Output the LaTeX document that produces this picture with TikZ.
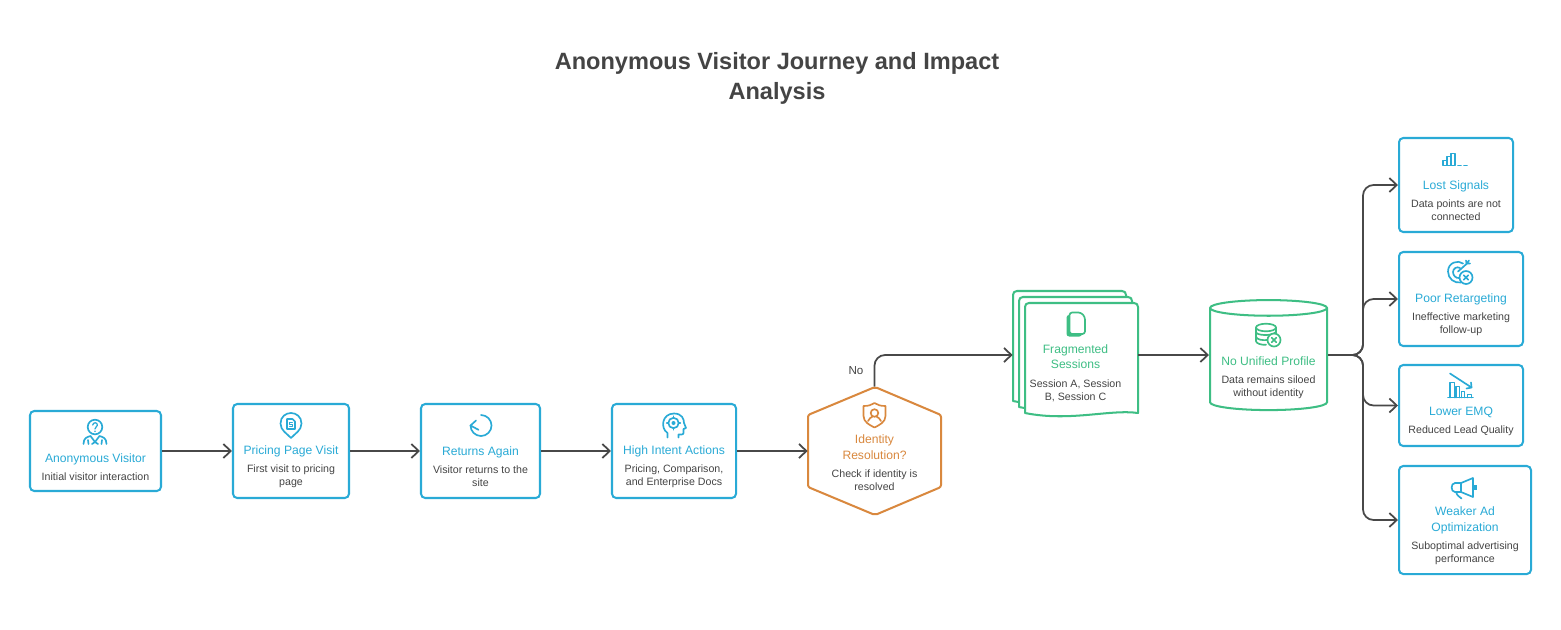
\documentclass[tikz,border=0pt]{standalone}
\usepackage{fontspec}
\setmainfont{Liberation Sans}
\usetikzlibrary{
    shapes.geometric,
    arrows.meta,
    calc
}
\definecolor{bgWhite}{RGB}{255, 255, 255}
\definecolor{textDark}{RGB}{68, 68, 68}
\definecolor{lineDark}{RGB}{72, 72, 72}
\definecolor{cardBlue}{RGB}{41, 170, 214}
\definecolor{cardGreen}{RGB}{62, 190, 132}
\definecolor{cardOrange}{RGB}{217, 136, 62}
\def\px{0.02cm}
\def\slideW{1561}
\def\slideH{629}
\newcommand{\titleFont}{\fontsize{6.9}{8.5}\selectfont}
\newcommand{\subFont}{\fontsize{6.05}{7.4}\selectfont\lineskiplimit=-20pt\relax}
\newcommand{\iconGap}{14.5pt}
\newcommand{\cardbody}[3][cardBlue]{%
    \rule{0pt}{\iconGap}\\[1.2pt]%
    {\titleFont\color{#1}#2}\\[3.1pt]%
    #3%
}
\newcommand{\cardbodyTwo}[4][cardBlue]{%
    \rule{0pt}{\iconGap}\\[1.2pt]%
    {\titleFont\color{#1}#2}\\[1.4pt]%
    {\titleFont\color{#1}#3}\\[3.1pt]%
    #4%
}
\tikzset{
    card/.style 2 args={
        rectangle,
        rounded corners=2.4pt,
        draw=cardBlue,
        line width=1.15pt,
        fill=bgWhite,
        minimum width=#1*\px,
        minimum height=#2*\px,
        inner sep=0pt,
        align=center,
        text=textDark,
        font=\subFont
    },
    bare/.style 2 args={
        rectangle,
        minimum width=#1*\px,
        minimum height=#2*\px,
        inner sep=0pt,
        align=center,
        text=textDark,
        font=\subFont
    },
    database/.style={
        cylinder,
        shape border rotate=90,
        aspect=0.166,
        draw=cardGreen,
        line width=1.15pt,
        fill=bgWhite,
        minimum width=117*\px,
        minimum height=110*\px,
        inner sep=0pt,
        align=center,
        text=textDark,
        font=\subFont
    },
    connector/.style={
        draw=lineDark,
        line width=1pt,
        rounded corners=6pt,
        -{Straight Barb[length=4.2pt,width=8pt,line width=1pt]}
    },
    sheet/.style={
        draw=cardGreen,
        line width=1.15pt,
        fill=bgWhite,
        line join=round
    },
    hexLine/.style={
        draw=cardOrange,
        line width=1.15pt,
        fill=bgWhite,
        rounded corners=1.2pt
    },
    iconBlue/.style={draw=cardBlue, line width=0.95pt, line cap=round, line join=round},
    iconGreen/.style={draw=cardGreen, line width=0.95pt, line cap=round, line join=round},
    iconOrange/.style={draw=cardOrange, line width=0.95pt, line cap=round, line join=round},
    % Icons
    askIcon/.pic={
        \draw[iconBlue] (0,-5) circle (7.3);
        \draw[iconBlue, line width=0.7pt] (-2.3,-7) .. controls (-2,-10) and (2.6,-10) .. (2.4,-6.8) .. controls (2.2,-5) and (0,-5) .. (0,-3);
        \fill[cardBlue] (0,-0.8) circle (0.9);
        \draw[iconBlue] (-11.5,12) .. controls (-11.5,6) and (-8,5) .. (-4.5,4) -- (0,10) -- (4.5,4) .. controls (8,5) and (11.5,6) .. (11.5,12);
        \draw[iconBlue] (-6.5,12) -- (-7,8) (6.5,12) -- (7,8) (-3,12) -- (0,10) -- (3,12);
    },
    pinIcon/.pic={
        \draw[iconBlue] (0,12.5) .. controls (-4,8) and (-10.5,5) .. (-10.5,-2) .. controls (-10.5,-9) and (-5,-12.5) .. (0,-12.5) .. controls (5,-12.5) and (10.5,-9) .. (10.5,-2) .. controls (10.5,5) and (4,8) .. (0,12.5) -- cycle;
        \draw[iconBlue] (-4,-6.5) -- (1.5,-6.5) -- (4,-4) -- (4,3.5) -- (-4,3.5) -- cycle;
        \draw[iconBlue, line width=0.6pt] (1.4,-3) -- (-1.4,-3) -- (-1.4,-1.2) -- (1.4,-1.2) -- (1.4,0.8) -- (-1.4,0.8);
    },
    loopIcon/.pic={
        \draw[iconBlue] (0,-10.5) arc[start angle=-90, end angle=180, radius=10.5];
        \draw[iconBlue] (-5,-5) -- (-10.5,0) -- (-2.5,4.3);
    },
    headIcon/.pic={
        \draw[iconBlue] (-6.5,12.5) -- (-6.5,8) .. controls (-14,3) and (-12,-11.5) .. (0,-11.5) .. controls (8,-11.5) and (10,-6) .. (10,-2) -- (12,3) -- (9.5,4) -- (9.5,8) .. controls (9.5,10) and (6,9.5) .. (4.5,9.5) -- (4.5,12.5);
        \draw[iconBlue] (-0.5,-2) circle (5.2);
        \fill[cardBlue] (-0.5,-2) circle (2);
        \draw[iconBlue] (-0.5,-8.8) -- (-0.5,-7.2) (-0.5,3.2) -- (-0.5,4.8) (-7.3,-2) -- (-5.7,-2) (4.7,-2) -- (6.3,-2);
    },
    shieldIcon/.pic={
        \draw[iconOrange] (-11,-9) .. controls (-6,-9) and (-3,-10) .. (0,-12) .. controls (3,-10) and (6,-9) .. (11,-9) -- (11,1) .. controls (11,7) and (5,10) .. (0,12.5) .. controls (-5,10) and (-11,7) .. (-11,1) -- cycle;
        \draw[iconOrange] (0,-2) circle (3.8);
        \draw[iconOrange] (-6.5,6) .. controls (-6,3) and (-3,3) .. (-2,1.5) (6.5,6) .. controls (6,3) and (3,3) .. (2,1.5);
    },
    pagesIcon/.pic={
        \fill[cardGreen, rounded corners=1.5pt] (-9.5,-9) rectangle (6,12.5);
        \draw[iconGreen, fill=bgWhite, rounded corners=1.5pt] (-6.5,-11.5) -- (5,-11.5) -- (9,-7) -- (9,10) -- (-6.5,10) -- cycle;
    },
    dbIcon/.pic={
        \draw[iconGreen] (-12,-7.5) arc[x radius=10, y radius=3.8, start angle=180, end angle=-180];
        \draw[iconGreen] (-12,-7.5) -- (-12,6) .. controls (-12,8.5) and (-7,10) .. (-2,9.8);
        \draw[iconGreen] (8,-7.5) -- (8,-1);
        \draw[iconGreen] (-12,-3) .. controls (-12,0.5) and (4,1.5) .. (8,-3);
        \draw[iconGreen] (-12,1.5) .. controls (-12,5) and (-4,5.5) .. (-1,5);
        \draw[iconGreen, fill=bgWhite] (6,5) circle (6.5);
        \draw[iconGreen] (3.7,2.7) -- (8.3,7.3) (8.3,2.7) -- (3.7,7.3);
    },
    barsIcon/.pic={
        \draw[iconBlue] (-12,6) -- (-12,1) -- (-8,1) -- (-8,6) -- cycle;
        \draw[iconBlue] (-8,6) -- (-8,-3) -- (-4,-3) -- (-4,6) -- cycle;
        \draw[iconBlue] (-4,6) -- (-4,-6) -- (0,-6) -- (0,6) -- cycle;
        \draw[iconBlue] (3,6) -- (6,6) (9,6) -- (12,6);
    },
    dartIcon/.pic={
        \draw[iconBlue] (3,-9) .. controls (-2,-13) and (-12,-10) .. (-12,-1) .. controls (-12,6) and (-6,11) .. (1,10);
        \draw[iconBlue] (0,-4.5) .. controls (-3,-6.5) and (-7,-4) .. (-7,-0.5) .. controls (-7,3) and (-4,6) .. (-1,5.5);
        \draw[iconBlue] (-2,-1) -- (7,-9);
        \draw[iconBlue] (6,-12) -- (6.5,-9) -- (10,-9) (6.5,-9) -- (9,-12);
        \draw[iconBlue, fill=bgWhite] (6,5) circle (6.5);
        \draw[iconBlue] (3.7,2.7) -- (8.3,7.3) (8.3,2.7) -- (3.7,7.3);
    },
    dropIcon/.pic={
        \draw[iconBlue] (-12.5,12) -- (12.5,12);
        \draw[iconBlue] (-10.5,12) -- (-10.5,-3) -- (-6,-3) -- (-6,12);
        \draw[iconBlue] (-4.5,12) -- (-4.5,1) -- (-1,1) -- (-1,12);
        \draw[iconBlue] (1,12) -- (1,6) -- (4,6) -- (4,12);
        \draw[iconBlue] (7,12) -- (7,9) -- (11,9) -- (11,12);
        \draw[iconBlue] (-10.5,-12) -- (11,2);
        \draw[iconBlue] (6,3) -- (11,2) -- (10.5,-3);
    },
    hornIcon/.pic={
        \draw[iconBlue] (-3,-5) -- (9,-10) -- (9,9) -- (-3,4);
        \draw[iconBlue] (-3,-5) -- (-9,-5) .. controls (-13.5,-5) and (-13.5,4) .. (-9,4) -- (-3,4) -- cycle;
        \draw[iconBlue] (-8,4) .. controls (-7,8) and (-4,9) .. (-2.5,10.5);
        \draw[iconBlue] (-3,-5) -- (-3,4);
        \fill[cardBlue] (10,-3) rectangle (12.5,2);
    }
}
\begin{document}
\begin{tikzpicture}[x=\px, y=-\px]
    \useasboundingbox (0,0) rectangle (\slideW, \slideH);
    \fill[bgWhite] (0,0) rectangle (\slideW, \slideH);

    \node[align=center, text=textDark, font=\bfseries\fontsize{13.4}{17}\selectfont] (title) at (777, 78) {Anonymous Visitor Journey and Impact\\Analysis};

    % Journey
    \node[card={131}{80}] (visitor) at (95.5, 451) {\cardbody{Anonymous Visitor}{Initial visitor interaction}};
    \node[card={116}{94}] (pricing) at (291, 451) {\cardbody{Pricing Page Visit}{First visit to pricing\\page}};
    \node[card={119}{94}] (returns) at (480.5, 451) {\cardbody{Returns Again}{Visitor returns to the\\site}};
    \node[card={124}{94}] (intent) at (674, 451) {\cardbody{High Intent Actions}{Pricing, Comparison,\\and Enterprise Docs}};

    % Decision
    \draw[hexLine] (875, 387) -- (941, 415) -- (941, 487) -- (875, 515) -- (808, 487) -- (808, 415) -- cycle;
    \node[bare={133}{120}] (resolve) at (874.5, 447) {\cardbodyTwo[cardOrange]{Identity}{Resolution?}{Check if identity is\\resolved}};

    % Sessions
    \foreach \d in {12, 6, 0} {
        \draw[sheet, xshift=-\d*\px, yshift=\d*\px] (1029, 303) -- (1134, 303) .. controls (1136.5, 303) and (1138, 304.5) .. (1138, 307) -- (1138, 413) .. controls (1110, 409) and (1070, 422) .. (1025, 413) -- (1025, 307) .. controls (1025, 304.5) and (1026.5, 303) .. (1029, 303) -- cycle;
    }
    \node[bare={125}{128}] (sessions) at (1075.5, 355) {\def\iconGap{16.8pt}\cardbodyTwo[cardGreen]{Fragmented}{Sessions}{Session A, Session\\B, Session C}};

    \node[database] (profile) at (1268.5, 359.5) {\def\iconGap{17.3pt}\cardbody[cardGreen]{No Unified Profile}{Data remains siloed\\without identity}};

    % Impact
    \node[card={114}{94}] (signals) at (1456, 185) {\cardbody{Lost Signals}{Data points are not\\connected}};
    \node[card={124}{94}] (retarget) at (1461, 299) {\cardbody{Poor Retargeting}{Ineffective marketing\\follow-up}};
    \node[card={124}{81}] (emq) at (1461, 405.5) {\cardbody{Lower EMQ}{Reduced Lead Quality}};
    \node[card={132}{108}] (adopt) at (1465, 520) {\cardbodyTwo{Weaker Ad}{Optimization}{Suboptimal advertising\\performance}};

    % Icons
    \pic at (95, 432) {askIcon};
    \pic at (291, 425.5) {pinIcon};
    \pic at (481, 425.5) {loopIcon};
    \pic at (674, 425) {headIcon};
    \pic at (874.5, 415) {shieldIcon};
    \pic at (1076, 324) {pagesIcon};
    \pic at (1268, 335) {dbIcon};
    \pic at (1455, 159.5) {barsIcon};
    \pic at (1460, 272.5) {dartIcon};
    \pic at (1460.5, 385.5) {dropIcon};
    \pic at (1464, 488) {hornIcon};

    % Edges
    \coordinate (fan) at (1363, 355);
    \draw[connector] (visitor.east) -- (pricing.west);
    \draw[connector] (pricing.east) -- (returns.west);
    \draw[connector] (returns.east) -- (intent.west);
    \draw[connector] (intent.east) -- (resolve.west |- intent.east);
    \draw[connector] (resolve.north) |- (sessions.west);
    \draw[connector] (sessions.east) -- (profile.west |- sessions.east);
    \draw[connector] (profile.east |- fan) -- (fan) |- (signals.west);
    \draw[connector] (profile.east |- fan) -- (fan) |- (retarget.west);
    \draw[connector] (profile.east |- fan) -- (fan) |- (emq.west);
    \draw[connector] (profile.east |- fan) -- (fan) |- (adopt.west);

    \node[text=textDark, font=\fontsize{6.6}{8}\selectfont] (noLabel) at (856, 371) {No};
\end{tikzpicture}
\end{document}
